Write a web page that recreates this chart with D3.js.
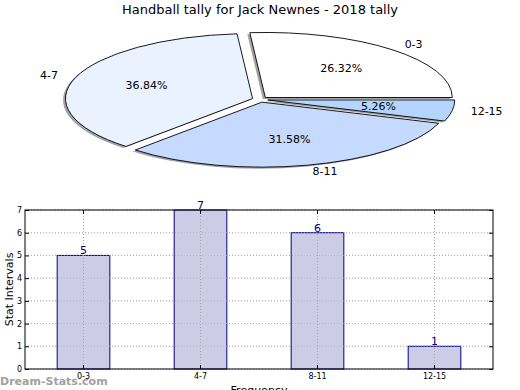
<!DOCTYPE html>
<html lang="en">
<head>
<meta charset="UTF-8" />
<title>Handball tally</title>
<script src="https://d3js.org/d3.v7.min.js"></script>
<style>
  body { margin: 0; background: #fff; }
  text { font-family: "DejaVu Sans", sans-serif; }
</style>
</head>
<body>
<script>
var categories = ["0-3", "4-7", "8-11", "12-15"];
var counts = [5, 7, 6, 1];
var yTicks = [0, 1, 2, 3, 4, 5, 6, 7];
var title = "Handball tally for Jack Newnes - 2018 tally";

var W = 520, H = 390;
var svg = d3.select("body").append("svg")
  .attr("width", W).attr("height", H);

svg.append("text")
  .attr("x", 260).attr("y", 14)
  .attr("text-anchor", "middle")
  .attr("font-size", 13)
  .text(title);

// ---- pie (ellipse, matplotlib style: start at 3 o'clock, counterclockwise)
var cx = 260, cy = 99.5, rx = 187, ry = 65, explode = 0.042;
var pieColors = ["#ffffff", "#ebf2ff", "#c6d9ff", "#b4d5ff"];
var total = d3.sum(counts);

var pie = d3.pie().sort(null).value(d => d)
  .startAngle(Math.PI / 2).endAngle(Math.PI / 2 - 2 * Math.PI);
var arcs = pie(counts);
var arc = d3.arc().innerRadius(0).outerRadius(1);

function offs(d, k) {
  var m = (d.startAngle + d.endAngle) / 2;
  return [k * Math.sin(m) * rx, -k * Math.cos(m) * ry];
}

var pieG = svg.append("g");

// shadows
pieG.selectAll("path.shadow")
  .data(arcs).enter().append("path")
  .attr("class", "shadow")
  .attr("d", arc)
  .attr("transform", d => {
    var o = offs(d, explode);
    return "translate(" + (cx + o[0] - 2.5) + "," + (cy + o[1] + 1.5) + ") scale(" + rx + "," + ry + ")";
  })
  .attr("fill", "#7a7a7a")
  .attr("opacity", 0.7);

pieG.selectAll("path.slice")
  .data(arcs).enter().append("path")
  .attr("class", "slice")
  .attr("d", arc)
  .attr("transform", d => {
    var o = offs(d, explode);
    return "translate(" + (cx + o[0]) + "," + (cy + o[1]) + ") scale(" + rx + "," + ry + ")";
  })
  .attr("fill", (d, i) => pieColors[i])
  .attr("stroke", "#000")
  .attr("stroke-width", 0.9)
  .attr("vector-effect", "non-scaling-stroke");

// percentage labels
pieG.selectAll("text.pct")
  .data(arcs).enter().append("text")
  .attr("class", "pct")
  .attr("x", d => cx + offs(d, explode)[0] + offs(d, 0.6)[0])
  .attr("y", d => cy + offs(d, explode)[1] + offs(d, 0.6)[1])
  .attr("text-anchor", "middle")
  .attr("dominant-baseline", "central")
  .attr("font-size", 11)
  .text(d => (d.value / total * 100).toFixed(2) + "%");

// category labels
pieG.selectAll("text.lab")
  .data(arcs).enter().append("text")
  .attr("class", "lab")
  .attr("x", d => cx + offs(d, explode)[0] + offs(d, 1.1)[0])
  .attr("y", d => cy + offs(d, explode)[1] + offs(d, 1.1)[1])
  .attr("text-anchor", d => offs(d, 1)[0] > 0 ? "start" : "end")
  .attr("dominant-baseline", "central")
  .attr("font-size", 11)
  .text((d, i) => categories[i]);

// ---- bar chart
var pL = 25, pR = 493, pT = 210, pB = 369;
var x = d3.scaleBand().domain(categories).range([pL, pR])
  .paddingInner(0.55).paddingOuter(0.275);
var y = d3.scaleLinear().domain([0, 7]).range([pB, pT]);

var bar = svg.append("g");

// grid
bar.selectAll("line.gy").data(yTicks).enter().append("line")
  .attr("x1", pL).attr("x2", pR)
  .attr("y1", d => y(d)).attr("y2", d => y(d))
  .attr("stroke", "#b0b0b0").attr("stroke-dasharray", "1,2");

bar.selectAll("rect.bar").data(counts).enter().append("rect")
  .attr("x", (d, i) => x(categories[i]))
  .attr("y", d => y(d))
  .attr("width", x.bandwidth())
  .attr("height", d => pB - y(d))
  .attr("fill", "#ccccE6")
  .attr("stroke", "#000080")
  .attr("stroke-width", 1);

// horizontal grid shows through bars in the reference
bar.selectAll("line.gy2").data(yTicks.slice(1)).enter().append("line")
  .attr("x1", pL).attr("x2", pR)
  .attr("y1", d => y(d)).attr("y2", d => y(d))
  .attr("stroke", "#a8a8b8").attr("stroke-dasharray", "1,2")
  .attr("opacity", 0.6);
bar.selectAll("line.gx").data(categories).enter().append("line")
  .attr("x1", d => x(d) + x.bandwidth() / 2).attr("x2", d => x(d) + x.bandwidth() / 2)
  .attr("y1", pT).attr("y2", pB)
  .attr("stroke", "#a8a8b0").attr("stroke-dasharray", "1,2");

bar.selectAll("text.val").data(counts).enter().append("text")
  .attr("x", (d, i) => x(categories[i]) + x.bandwidth() / 2)
  .attr("y", d => y(d) - 1)
  .attr("text-anchor", "middle")
  .attr("font-size", 11)
  .attr("fill", "#000090")
  .text(d => d);

// axes
var yAxisL = d3.axisLeft(y).tickValues(yTicks).tickFormat(d3.format("d")).tickSize(-4).tickPadding(3);
var gl = bar.append("g").attr("transform", "translate(" + pL + ",0)").call(yAxisL);
var yAxisR = d3.axisRight(y).tickValues(yTicks).tickSize(-4).tickFormat("");
var gr = bar.append("g").attr("transform", "translate(" + pR + ",0)").call(yAxisR);
var xAxisB = d3.axisBottom(x).tickSize(-4).tickPadding(4);
var gb = bar.append("g").attr("transform", "translate(0," + pB + ")").call(xAxisB);
var xAxisT = d3.axisTop(x).tickSize(-4).tickFormat("");
var gt = bar.append("g").attr("transform", "translate(0," + pT + ")").call(xAxisT);
[gl, gr, gb, gt].forEach(g => {
  g.select(".domain").remove();
  g.selectAll("text").attr("font-size", 8).attr("font-family", "DejaVu Sans, sans-serif").attr("fill", "#000");
  g.selectAll("line").attr("stroke", "#000");
});

bar.append("rect")
  .attr("x", pL).attr("y", pT)
  .attr("width", pR - pL).attr("height", pB - pT)
  .attr("fill", "none").attr("stroke", "#000").attr("stroke-width", 1);

svg.append("text")
  .attr("transform", "translate(13," + ((pT + pB) / 2) + ") rotate(-90)")
  .attr("text-anchor", "middle")
  .attr("font-size", 11)
  .text("Stat Intervals");

svg.append("text")
  .attr("x", (pL + pR) / 2).attr("y", 394)
  .attr("text-anchor", "middle")
  .attr("font-size", 11)
  .text("Frequency");

svg.append("text")
  .attr("x", 0).attr("y", 385)
  .attr("font-size", 11)
  .attr("font-weight", "bold")
  .attr("fill", "#909090")
  .attr("opacity", 0.85)
  .text("Dream-Stats.com");
</script>
</body>
</html>
